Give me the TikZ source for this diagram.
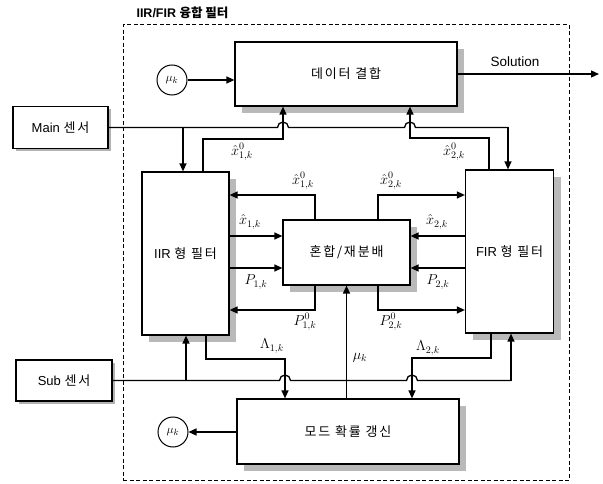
\documentclass[tikz,border=0pt]{standalone}
\usepackage{fontspec}
\setmainfont{Liberation Sans}
\newfontfamily\kr{Noto Sans CJK KR}[LetterSpace=14]
\newfontfamily\krb{Noto Sans CJK KR}
\usetikzlibrary{arrows.meta,shadows,calc}
\begin{document}
\begin{tikzpicture}[x=1pt,y=-1pt,
  conn/.style={line width=1.3pt},
  arr/.style={conn,-{Triangle[length=8pt,width=7pt]}},
  blk/.style={draw,line width=1.2pt,fill=white,inner sep=0pt,
     drop shadow={shadow xshift=7pt,shadow yshift=-7pt,fill=gray!55,opacity=1}},
  sens/.style={draw,line width=1.2pt,fill=white,inner sep=0pt,
     drop shadow={shadow xshift=2.5pt,shadow yshift=-2.5pt,fill=gray!60,opacity=1}},
  circ/.style={draw,circle,line width=1pt,minimum size=30pt,inner sep=0pt,fill=white,font=\fontsize{13}{15}\selectfont},
  lab/.style={inner sep=0pt,font=\fontsize{14}{16}\selectfont},
  txt/.style={font=\fontsize{13}{15}\selectfont}]
\useasboundingbox (0,0) rectangle (603,484);
\fill[white] (0,0) rectangle (603,484);

% frame
\node[draw,dashed,dash pattern=on 4pt off 2.5pt,line width=1pt,minimum width=446pt,minimum height=455pt,inner sep=0pt] (frame) at (346,252.5) {};
\node[font=\fontsize{12.5}{14}\selectfont\bfseries,anchor=west] (title) at (133,13) {IIR/FIR {\krb\bfseries 융합 필터}};

% blocks
\node[blk,minimum width=222pt,minimum height=64pt,txt] (fuse) at (346,74) {\kr 데이터 결합};
\node[sens,minimum width=95pt,minimum height=42pt,txt] (main) at (60.5,127.5) {Main {\kr 센서}};
\node[sens,minimum width=96pt,minimum height=41pt,txt] (sub) at (64,380.5) {Sub {\kr 센서}};
\node[blk,minimum width=87pt,minimum height=163pt,txt] (iir) at (185.5,253.5) {IIR {\kr 형 필터}};
\node[blk,minimum width=88pt,minimum height=163pt,txt] (fir) at (509.5,251.5) {FIR {\kr 형 필터}};
\node[blk,minimum width=127pt,minimum height=65pt,txt] (mix) at (346.5,252.5) {\kr 혼합/재분배};
\node[blk,minimum width=222pt,minimum height=65pt,txt] (mode) at (348,431.5) {\kr 모드 확률 갱신};
\node[circ] (mu1) at (172,80) {$\mu_k$};
\node[circ] (mu2) at (173,432) {$\mu_k$};

% coordinates
\coordinate (jm1) at (283,127.5);
\coordinate (jm2) at (410,127.5);
\coordinate (mf) at (508,127.5);
\coordinate (mi) at (183,127.5);
\coordinate (a1) at (203,139);
\coordinate (a2) at (489,138);
\coordinate (sol) at (599,74);
\coordinate (m1) at (315,195);
\coordinate (m2) at (378,195);
\coordinate (m3) at (315,310);
\coordinate (m4) at (378,310);
\coordinate (y1) at (0,236);
\coordinate (y2) at (0,268);
\coordinate (js1) at (285,380.5);
\coordinate (js2) at (412,380.5);
\coordinate (sf) at (511,380.5);
\coordinate (si) at (186,380.5);
\coordinate (l1) at (206,359);
\coordinate (l2) at (491,358);

% top section
\draw[arr] (mu1.east) -- (mu1.east -| fuse.west);
\draw[arr] (fuse.east) -- (sol);
\node[font=\fontsize{13.5}{15}\selectfont] (soltxt) at (515,62) {Solution};
\draw[conn] (main.east) -- ([xshift=-5.5pt]jm1) arc[start angle=180,end angle=0,radius=5.5pt]
   -- ([xshift=-5.5pt]jm2) arc[start angle=180,end angle=0,radius=5.5pt] -- (mf);
\draw[arr] (mf) -- (mf |- fir.north);
\draw[arr] (mi) -- (mi |- iir.north);
\draw[arr] (a1 |- iir.north) -- (a1) -| (fuse.south -| jm1);
\draw[arr] (a2 |- fir.north) -- (a2) -| (fuse.south -| jm2);
\node[lab] (la1) at (242,152) {$\hat{x}^{0}_{1,k}$};
\node[lab] (la2) at (454,152) {$\hat{x}^{0}_{2,k}$};

% mixing
\draw[arr] (mix.north -| m1) -- (m1) -- (m1 -| iir.east);
\draw[arr] (mix.north -| m2) -- (m2) -- (m2 -| fir.west);
\draw[arr] (iir.east |- y1) -- (mix.west |- y1);
\draw[arr] (iir.east |- y2) -- (mix.west |- y2);
\draw[arr] (fir.west |- y1) -- (mix.east |- y1);
\draw[arr] (fir.west |- y2) -- (mix.east |- y2);
\draw[arr] (mix.south -| m3) -- (m3) -- (m3 -| iir.east);
\draw[arr] (mix.south -| m4) -- (m4) -- (m4 -| fir.west);
\draw[arr] (mode.north -| mix.south) -- (mix.south);
\node[lab] (lb1) at (303,181) {$\hat{x}^{0}_{1,k}$};
\node[lab] (lb2) at (391,181) {$\hat{x}^{0}_{2,k}$};
\node[lab] (lc1) at (250,222) {$\hat{x}_{1,k}$};
\node[lab] (lc2) at (437,222) {$\hat{x}_{2,k}$};
\node[lab] (ld1) at (256,282) {$P_{1,k}$};
\node[lab] (ld2) at (438,282) {$P_{2,k}$};
\node[lab] (le1) at (305,322) {$P^{0}_{1,k}$};
\node[lab] (le2) at (391,322) {$P^{0}_{2,k}$};
\node[lab] (lmu) at (360,358) {$\mu_k$};

% bottom section
\draw[conn] (sub.east) -- ([xshift=-5.5pt]js1) arc[start angle=180,end angle=0,radius=5.5pt]
   -- ([xshift=-5.5pt]js2) arc[start angle=180,end angle=0,radius=5.5pt] -- (sf);
\draw[arr] (sf) -- (sf |- fir.south);
\draw[arr] (si) -- (si |- iir.south);
\draw[arr] (l1 |- iir.south) -- (l1) -| (mode.north -| js1);
\draw[arr] (l2 |- fir.south) -- (l2) -| (mode.north -| js2);
\node[lab] (lf1) at (272,346) {$\Lambda_{1,k}$};
\node[lab] (lf2) at (428,348) {$\Lambda_{2,k}$};
\draw[arr] (mode.west |- mu2) -- (mu2.east);
\end{tikzpicture}
\end{document}
